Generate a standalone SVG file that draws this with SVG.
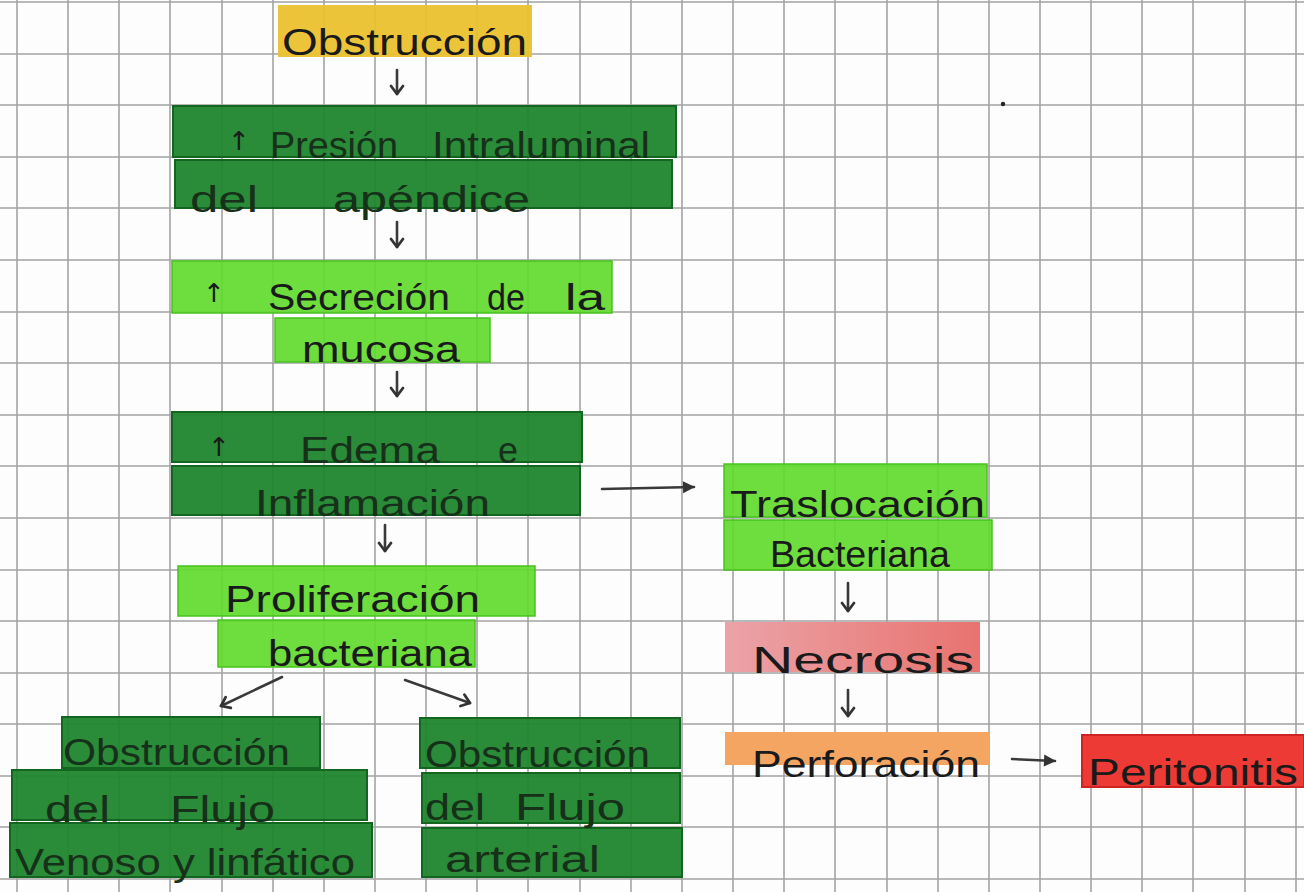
<svg xmlns="http://www.w3.org/2000/svg" width="1304" height="892" viewBox="0 0 1304 892">
<style>
.grid{stroke:#a3a3a3;stroke-width:1.6;fill:none}
.dk{fill:#1f852d;stroke:#13661f;stroke-width:2;fill-opacity:0.95}
.lt{fill:#62da2e;stroke:#48c21e;stroke-width:1.5;fill-opacity:0.92}
.t{font-family:"Liberation Sans","DejaVu Sans",sans-serif;fill:#1a1a1a;font-size:36px}
.td{fill:#17301a}
.up{font-family:"DejaVu Sans","Liberation Sans",sans-serif;font-size:26px;fill:#1a1a1a}
.arr{stroke:#3a3a3a;stroke-width:2.6;fill:none;stroke-linecap:round}
</style>
<defs>
<marker id="chev" viewBox="0 0 14 14" markerWidth="14" markerHeight="14" refX="11" refY="7" orient="auto" markerUnits="userSpaceOnUse" overflow="visible">
<path d="M3,1 L11,7 L3,13" fill="none" stroke="#333" stroke-width="2.8" stroke-linecap="round" stroke-linejoin="round"/>
</marker>
<marker id="tri" viewBox="0 0 14 14" markerWidth="14" markerHeight="14" refX="12" refY="7" orient="auto" markerUnits="userSpaceOnUse">
<path d="M1,1 L13,7 L1,13 Z" fill="#333"/>
</marker>
<linearGradient id="pink" x1="0" x2="1" y1="0" y2="0">
<stop offset="0" stop-color="#eba3a8"/>
<stop offset="1" stop-color="#e8736f"/>
</linearGradient>
</defs>
<rect x="0" y="0" width="1304" height="892" fill="#fdfdfd"/>
<g id="grid">
<path class="grid" d="M17,0V892M68,0V892M119,0V892M170,0V892M222,0V892M273,0V892M324,0V892M375,0V892M426,0V892M477,0V892M528,0V892M580,0V892M631,0V892M682,0V892M733,0V892M784,0V892M835,0V892M887,0V892M938,0V892M989,0V892M1040,0V892M1091,0V892M1142,0V892M1193,0V892M1245,0V892M1296,0V892"/>
<path class="grid" d="M0,2H1304M0,54H1304M0,105H1304M0,157H1304M0,208H1304M0,260H1304M0,312H1304M0,363H1304M0,415H1304M0,466H1304M0,518H1304M0,570H1304M0,621H1304M0,673H1304M0,724H1304M0,776H1304M0,827H1304M0,879H1304"/>
<circle cx="1003" cy="104" r="2.2" fill="#222"/>
</g>
<g id="n1">
<rect x="278" y="5" width="254" height="52" fill="#ebc12e" fill-opacity="0.95"/>
<text class="t" x="282" y="55" font-size="40" textLength="245" lengthAdjust="spacingAndGlyphs">Obstrucción</text>
</g>
<g id="n2">
<rect class="dk" x="173" y="106" width="503" height="51"/>
<rect class="dk" x="175" y="160" width="497" height="48"/>
<text class="up" x="228" y="150">↑</text>
<text class="t td" x="270" y="158" font-size="34" textLength="128" lengthAdjust="spacingAndGlyphs">Presión</text>
<text class="t td" x="432" y="158" font-size="34" textLength="218" lengthAdjust="spacingAndGlyphs">Intraluminal</text>
<text class="t td" x="190" y="212" font-size="34" textLength="68" lengthAdjust="spacingAndGlyphs">del</text>
<text class="t td" x="333" y="212" font-size="34" textLength="197" lengthAdjust="spacingAndGlyphs">apéndice</text>
</g>
<g id="n3">
<rect class="lt" x="172" y="261" width="440" height="52"/>
<rect class="lt" x="275" y="318" width="215" height="44"/>
<text class="up" x="203" y="302">↑</text>
<text class="t" x="268" y="310" font-size="38" textLength="182" lengthAdjust="spacingAndGlyphs">Secreción</text>
<text class="t" x="487" y="310" font-size="38" textLength="38" lengthAdjust="spacingAndGlyphs">de</text>
<text class="t" x="565" y="310" font-size="38" textLength="40" lengthAdjust="spacingAndGlyphs">la</text>
<text class="t" x="302" y="362" font-size="36" textLength="158" lengthAdjust="spacingAndGlyphs">mucosa</text>
</g>
<g id="n4">
<rect class="dk" x="172" y="412" width="410" height="50"/>
<rect class="dk" x="172" y="466" width="408" height="49"/>
<text class="up" x="208" y="456">↑</text>
<text class="t td" x="300" y="463" font-size="36" textLength="140" lengthAdjust="spacingAndGlyphs">Edema</text>
<text class="t td" x="498" y="463" font-size="36">e</text>
<text class="t td" x="255" y="516" font-size="36" textLength="235" lengthAdjust="spacingAndGlyphs">Inflamación</text>
</g>
<g id="n5">
<rect class="lt" x="178" y="566" width="357" height="50"/>
<rect class="lt" x="218" y="620" width="257" height="47"/>
<text class="t" x="225" y="612" font-size="38" textLength="255" lengthAdjust="spacingAndGlyphs">Proliferación</text>
<text class="t" x="268" y="666" font-size="36" textLength="204" lengthAdjust="spacingAndGlyphs">bacteriana</text>
</g>
<g id="n6">
<rect class="dk" x="62" y="717" width="258" height="51"/>
<rect class="dk" x="12" y="770" width="355" height="50"/>
<rect class="dk" x="10" y="823" width="362" height="54"/>
<text class="t td" x="63" y="765" font-size="36" textLength="227" lengthAdjust="spacingAndGlyphs">Obstrucción</text>
<text class="t td" x="45" y="822" font-size="36" textLength="65" lengthAdjust="spacingAndGlyphs">del</text>
<text class="t td" x="170" y="822" font-size="36" textLength="105" lengthAdjust="spacingAndGlyphs">Flujo</text>
<text class="t td" x="15" y="875" font-size="36" textLength="340" lengthAdjust="spacingAndGlyphs">Venoso y linfático</text>
</g>
<g id="n7">
<rect class="dk" x="420" y="718" width="260" height="50"/>
<rect class="dk" x="422" y="773" width="258" height="50"/>
<rect class="dk" x="422" y="828" width="260" height="49"/>
<text class="t td" x="425" y="767" font-size="36" textLength="225" lengthAdjust="spacingAndGlyphs">Obstrucción</text>
<text class="t td" x="425" y="820" font-size="36" textLength="60" lengthAdjust="spacingAndGlyphs">del</text>
<text class="t td" x="515" y="820" font-size="36" textLength="110" lengthAdjust="spacingAndGlyphs">Flujo</text>
<text class="t td" x="445" y="872" font-size="36" textLength="155" lengthAdjust="spacingAndGlyphs">arterial</text>
</g>
<g id="n8">
<rect class="lt" x="724" y="464" width="263" height="53"/>
<rect class="lt" x="724" y="520" width="268" height="50"/>
<text class="t" x="730" y="517" font-size="42" textLength="255" lengthAdjust="spacingAndGlyphs">Traslocación</text>
<text class="t" x="770" y="567" font-size="38" textLength="180" lengthAdjust="spacingAndGlyphs">Bacteriana</text>
</g>
<g id="n9">
<rect x="725" y="622" width="255" height="50" fill="url(#pink)"/>
<text class="t" x="752" y="673" font-size="44" textLength="222" lengthAdjust="spacingAndGlyphs">Necrosis</text>
</g>
<g id="n10">
<rect x="725" y="732" width="265" height="33" fill="#f5a562"/>
<text class="t" x="752" y="777" font-size="40" textLength="228" lengthAdjust="spacingAndGlyphs">Perforación</text>
</g>
<g id="n11">
<rect x="1082" y="735" width="222" height="52" fill="#ee3a35" stroke="#cf2222" stroke-width="2"/>
<text class="t" x="1088" y="785" font-size="38" textLength="210" lengthAdjust="spacingAndGlyphs" fill="#5a1010">Peritonitis</text>
</g>
<g id="connectors">
<path class="arr" d="M397,70 L397,94" marker-end="url(#chev)"/>
<path class="arr" d="M397,222 L397,247" marker-end="url(#chev)"/>
<path class="arr" d="M397,372 L397,396" marker-end="url(#chev)"/>
<path class="arr" d="M385,525 L385,551" marker-end="url(#chev)"/>
<path class="arr" d="M848,583 L848,611" marker-end="url(#chev)"/>
<path class="arr" d="M848,690 L848,716" marker-end="url(#chev)"/>
<path class="arr" d="M602,489 L694,487" marker-end="url(#tri)" stroke-width="3.5"/>
<path class="arr" d="M1012,759 L1055,761" marker-end="url(#tri)" stroke-width="3.5"/>
<path class="arr" d="M282,677 L221,706" marker-end="url(#chev)" stroke-width="3.5"/>
<path class="arr" d="M405,680 L470,703" marker-end="url(#chev)" stroke-width="3.5"/>
</g>
</svg>
